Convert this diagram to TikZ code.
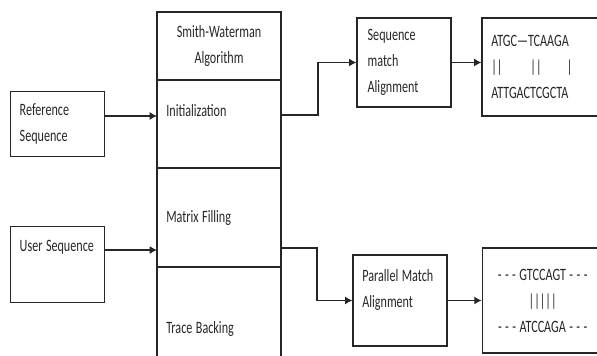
\documentclass[tikz,border=0pt]{standalone}
\usepackage{fontspec}
\setmainfont{Carlito}[FakeStretch=0.7]
\usetikzlibrary{positioning,arrows.meta}

\begin{document}
\begin{tikzpicture}[
    x=0.75pt, y=0.75pt,
    every node/.style={font=\fontsize{13pt}{19.5pt}\selectfont, text=black!85,
        execute at begin node={\spaceskip=2.6pt\xspaceskip=2.6pt\relax}},
    cell/.style={draw=black!85, line width=0.9pt, inner xsep=7pt, inner ysep=3pt, align=left},
    stage/.style={cell, outer sep=0pt, text width=79pt},
    arrow/.style={-{Latex[length=5.5pt,width=6pt]}, line width=0.9pt, black!85},
    node distance=0pt
]
\useasboundingbox (0,0) rectangle (597,356);

\node[stage, align=center, minimum height=51pt] (sw) at (219,310) {Smith-Waterman\\Algorithm};
\node[stage, minimum height=66pt, text depth=21pt, below=of sw] (init) {Initialization};
\node[stage, minimum height=74.25pt, below=of init] (fill) {Matrix Filling};
\node[stage, minimum height=93pt, below=of fill] (trace) {Trace Backing};

\node[cell, text width=56.5pt, minimum height=48.75pt, left=39pt of init] (ref) {Reference\\Sequence};
\node[cell, text width=56.5pt, minimum height=57pt, text depth=28pt, below=51.75pt of ref] (user) {\mbox{User Sequence}};

\node[cell, inner xsep=8pt, text width=54.5pt, minimum height=66.75pt] (sma) at (404,293.5) {Sequence\\match\\Alignment};
\node[cell, text width=76pt, minimum height=73.5pt] (atgc) at (542,289) {ATGC—TCAAGA\\||\hspace{21pt}||\hspace{19pt}|\\ATTGACTCGCTA};
\node[cell, text width=56.5pt, minimum height=68.25pt, text depth=37pt] (pma) at (400,55.5) {\mbox{Parallel Match}\\Alignment};
\node[cell, align=center, text width=76.75pt, minimum height=78.75pt, right=25.5pt of pma] (pmres) {\mbox{- - - GTCCAGT - - -}\\|||||\\\mbox{- - - ATCCAGA - - -}};

\coordinate (refout) at ([yshift=6pt]ref.east);
\draw[arrow] (refout) -- (refout -| init.west);
\coordinate (userout) at ([yshift=11pt]user.east);
\draw[arrow] (userout) -- (userout -| fill.west);
\coordinate (initout) at ([yshift=6.75pt]init.east);
\draw[arrow] (initout) -- ++(27.75pt,0) |- (sma.west);
\coordinate (fillout) at ([yshift=-22.9pt]fill.east);
\draw[arrow] (fillout) -- ++(27pt,0) |- (pma.west);
\draw[arrow] (sma.east) -- (sma.east -| atgc.west);
\draw[arrow] (pma) -- (pmres);

\end{tikzpicture}
\end{document}
